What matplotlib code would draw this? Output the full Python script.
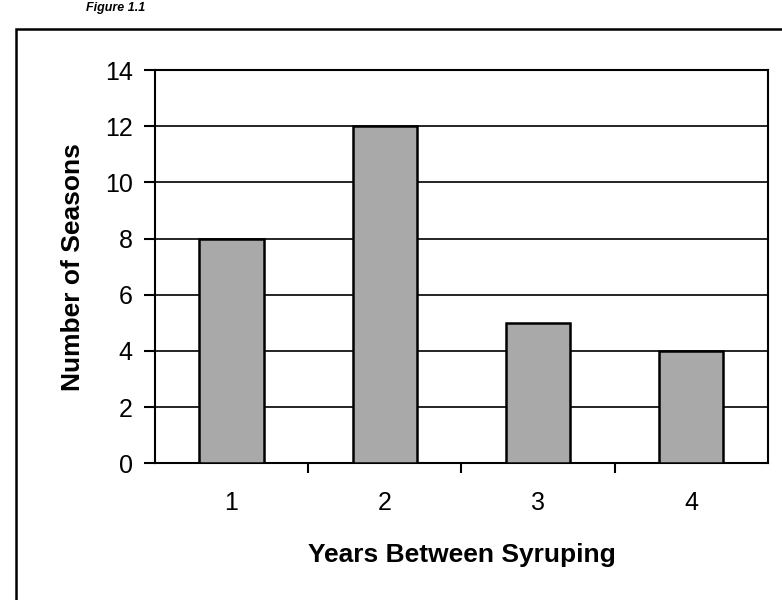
import matplotlib
matplotlib.use("Agg")
import matplotlib.pyplot as plt
from matplotlib.patches import Rectangle

# --- Data ---
years = [1, 2, 3, 4]
seasons = [8, 12, 5, 4]
year_labels = ["1", "2", "3", "4"]

plt.rcParams['font.family'] = ['Liberation Sans', 'DejaVu Sans']

fig = plt.figure(figsize=(7.82, 6.0), dpi=100)
ax = fig.add_axes([0.198, 0.228, 0.784, 0.655])

# outer box round the chart (scanned page)
fig.patches.append(Rectangle((0.02, -0.02), 0.985, 0.972, transform=fig.transFigure,
                             fill=False, edgecolor='black', linewidth=1.8, clip_on=False))
fig.text(0.11, 0.997, "Figure 1.1", fontsize=9, fontstyle='italic', fontweight='bold',
         va='top', ha='left')

ax.bar(years, seasons, width=0.42, color='#a9a9a9', edgecolor='black', linewidth=1.8, zorder=3)

ax.set_xlim(0.5, 4.5)
ax.set_ylim(0, 14)
ax.set_yticks(range(0, 15, 2))
ax.grid(axis='y', color='black', linewidth=1.2, zorder=0)

# category ticks sit between the bars
ax.set_xticks([1.5, 2.5, 3.5])
ax.set_xticklabels([])
ax.set_xticks(years, minor=True)
ax.set_xticklabels(year_labels, minor=True)
ax.tick_params(axis='x', which='major', direction='out', length=7, width=1.5)
ax.tick_params(axis='x', which='minor', length=0, pad=20, labelsize=18)
ax.tick_params(axis='y', direction='out', length=8, width=1.5, labelsize=18, pad=8)

for s in ax.spines.values():
    s.set_linewidth(1.5)

ax.set_ylabel("Number of Seasons", fontsize=19, fontweight='bold', labelpad=14)
ax.set_xlabel("Years Between Syruping", fontsize=19, fontweight='bold', labelpad=20)

plt.savefig("out.png", dpi=100)
